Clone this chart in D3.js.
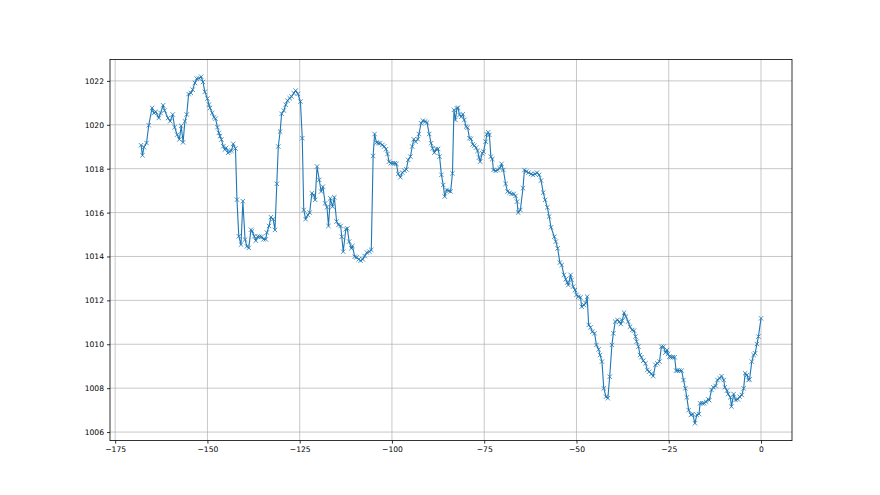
<!DOCTYPE html>
<html>
<head>
<meta charset="utf-8">
<script src="https://cdn.jsdelivr.net/npm/d3@7"></script>
<style>
  html, body { margin: 0; padding: 0; background: #ffffff; }
  svg { display: block; }
  text { font-family: "DejaVu Sans", sans-serif; }
</style>
</head>
<body>
<svg id="chart" width="880" height="495"></svg>
<script>
const hours = [
-168.0,-167.6,-167.2,-166.5,-165.9,-165.0,-164.5,-164.0,-163.2,-162.7,-162.0,-161.6,-160.7,-160.1,-159.4,-158.9,-158.2,-157.6,-157.1,-156.6,-156.1,-155.6,-155.1,-154.5,-154.0,-153.4,-152.9,-152.3,
-151.7,-151.2,-150.7,-150.0,-149.6,-149.3,-148.7,-148.2,-147.8,-147.3,-146.9,-146.6,-146.2,-145.7,-145.3,-144.9,-144.4,-144.0,-143.5,-143.0,-142.4,-142.0,-141.5,-140.9,-140.4,-139.8,-139.3,-138.8,-138.2,-137.9,-137.3,
-136.9,-136.4,-135.9,-135.3,-134.8,-134.2,-133.9,-133.3,-132.8,-132.2,-131.7,-131.2,-130.8,-130.3,-129.9,-129.3,-128.8,-128.3,-127.7,-127.2,-126.6,-126.1,-125.5,-124.8,-124.3,-123.9,-123.4,-122.8,-122.3,-121.7,-121.2,-120.8,-120.3,
-119.7,-119.2,-118.7,-118.1,-117.6,-117.2,-116.7,-116.1,-115.6,-115.0,-114.5,-113.9,-113.6,-113.2,-112.5,-112.1,-111.6,-111.0,-110.7,-110.1,-109.6,-109.0,-108.5,-107.9,-107.4,-106.8,-106.1,-105.6,-105.1,-104.7,-104.2,-103.7,-103.2,
-102.6,-102.1,-101.6,-101.2,-100.8,-100.3,-99.7,-99.2,-98.8,-98.3,-97.7,-97.2,-96.6,-96.1,-95.6,-95.0,-94.5,-94.1,-93.6,-93.0,-92.7,-92.1,-91.6,-91.0,-90.5,-89.9,-89.4,-89.0,-88.5,-88.0,-87.5,-87.1,-86.6,-86.1,-85.7,-85.2,-84.6,-84.1,-83.6,
-83.2,-82.8,-82.4,-82.1,-81.7,-81.2,-80.8,-80.4,-79.9,-79.5,-79.0,-78.6,-78.1,-77.7,-77.2,-76.8,-76.4,-76.1,-75.5,-75.2,-74.6,-74.3,-73.9,-73.6,-73.2,-72.8,-72.5,-71.9,-71.4,-70.8,-70.3,-69.8,-69.2,-68.7,-68.1,-67.6,-67.0,-66.5,-66.1,-65.8,-65.2,
-64.5,-64.1,-63.6,-63.0,-62.3,-61.8,-61.2,-60.7,-60.1,-59.6,-59.0,-58.5,-57.9,-57.4,-56.9,-56.0,-55.6,-55.1,-54.5,-54.0,-53.4,-52.9,-52.5,-52.2,-51.6,-51.3,-50.9,-50.4,-50.0,-49.5,-48.9,-48.6,-48.0,-47.5,-47.1,-46.7,-46.2,-45.7,-45.1,
-44.6,-44.0,-43.6,-43.1,-42.6,-42.0,-41.5,-41.0,-40.4,-40.0,-39.5,-38.9,-38.4,-38.0,-37.6,-37.1,-36.6,-36.0,-35.5,-34.9,-34.4,-34.0,-33.7,-33.2,-32.8,-32.4,-31.9,-31.3,-30.8,-30.3,-29.7,-29.2,-28.6,-28.1,-27.5,-27.0,-26.4,-25.9,-25.5,
-25.2,-24.8,-24.5,-23.9,-23.4,-23.0,-22.6,-22.1,-21.5,-21.0,-20.5,-20.1,-19.6,-19.0,-18.5,-17.9,-17.4,-16.8,-16.5,-15.9,-15.4,-14.9,-14.3,-14.0,-13.4,-12.9,-12.3,-11.8,-11.2,-10.7,-10.1,-9.8,-9.2,-8.9,-8.3,-8.0,-7.4,-6.9,-6.3,
-5.8,-5.2,-4.7,-4.3,-3.8,-3.4,-3.1,-2.5,-2.0,-1.6,-1.1,-0.7,0.0
];
const pressure = [
1019.07,1018.61,1018.98,1019.17,1019.98,1020.77,1020.54,1020.59,1020.31,1020.54,1020.89,1020.65,1020.31,1020.16,1020.47,1019.89,1019.55,1019.33,1019.95,1019.20,1020.16,1020.47,1021.40,1021.45,1021.60,1021.91,1022.10,1022.11,
1022.19,1021.95,1021.50,1021.19,1020.92,1020.77,1020.54,1020.34,1020.28,1019.89,1019.63,1019.48,1019.33,1019.02,1018.87,1018.95,1018.72,1018.79,1018.82,1019.13,1018.92,1016.59,1014.92,1014.54,1016.52,1014.77,1014.46,1014.39,1015.22,1015.15,1014.92,
1014.72,1014.90,1014.90,1014.90,1014.78,1014.78,1015.09,1015.39,1015.79,1015.70,1015.21,1017.31,1019.01,1019.69,1020.50,1020.65,1020.91,1021.10,1021.21,1021.29,1021.44,1021.56,1021.41,1021.06,1019.39,1016.12,1015.70,1015.89,1016.00,1016.88,1016.80,1016.58,1018.10,
1017.49,1016.96,1017.18,1016.42,1016.24,1015.39,1016.65,1016.27,1016.70,1015.59,1015.44,1015.39,1014.90,1014.22,1015.24,1015.28,1014.68,1014.37,1014.48,1013.99,1013.96,1013.87,1013.81,1013.87,1014.02,1014.18,1014.22,1014.30,1018.58,1019.58,1019.19,1019.16,1019.16,
1019.08,1019.01,1018.89,1018.67,1018.32,1018.25,1018.25,1018.25,1018.22,1017.76,1017.61,1017.82,1017.91,1017.97,1018.40,1018.55,1019.01,1019.34,1019.23,1019.34,1019.58,1020.07,1020.19,1020.15,1020.10,1019.58,1019.16,1018.93,1018.73,1018.90,1018.90,1018.55,1017.72,1017.26,1016.73,1017.03,1016.99,1016.96,1017.79,
1020.68,1020.22,1020.75,1020.78,1020.45,1020.37,1020.48,1020.22,1019.92,1019.87,1019.39,1019.36,1019.11,1019.05,1018.96,1018.81,1018.51,1018.32,1018.70,1018.78,1019.23,1019.57,1019.66,1019.54,1018.55,1018.44,1017.94,1017.90,1017.94,1018.02,1018.22,1017.94,1017.31,1016.96,1016.91,1016.85,1016.85,1016.76,1016.50,1016.00,1016.12,
1017.11,1017.94,1017.87,1017.82,1017.76,1017.72,1017.76,1017.82,1017.72,1017.46,1016.91,1016.58,1016.24,1015.82,1015.33,1014.90,1014.68,1014.37,1013.72,1013.61,1013.16,1012.96,1012.81,1012.70,1013.16,1012.93,1012.63,1012.47,1012.25,1012.17,1012.14,1011.71,1011.79,1011.87,1012.17,1010.88,1010.77,1010.57,1010.50,
1009.97,1009.77,1009.51,1009.21,1007.99,1007.61,1007.54,1008.52,1009.97,1010.50,1011.03,1011.11,1011.03,1010.92,1011.08,1011.44,1011.26,1011.03,1010.80,1010.65,1010.62,1010.35,1010.12,1009.89,1009.51,1009.41,1009.25,1009.13,1008.83,1008.75,1008.65,1008.55,1009.06,1009.13,1009.21,1009.89,1009.89,1009.62,1009.74,
1009.56,1009.44,1009.41,1009.41,1009.41,1008.80,1008.80,1008.80,1008.80,1008.37,1007.99,1007.58,1007.00,1006.78,1006.82,1006.40,1006.78,1006.82,1007.31,1007.31,1007.31,1007.38,1007.49,1007.45,1007.92,1008.04,1008.10,1008.37,1008.45,1008.55,1008.37,1008.04,1007.89,1007.73,1007.58,1007.16,1007.73,1007.46,1007.49,
1007.61,1007.69,1007.99,1008.68,1008.60,1008.37,1008.40,1009.21,1009.51,1009.59,1010.01,1010.35,1011.18
];
const xTicks = [-175, -150, -125, -100, -75, -50, -25, 0];
const yTicks = [1006, 1008, 1010, 1012, 1014, 1016, 1018, 1020, 1022];

const plotL = 110, plotR = 792, plotT = 59.4, plotB = 440.6;
const svg = d3.select("#chart");

const data = hours.map((h, i) => ({ h, p: pressure[i] }));
const xe = d3.extent(hours), ye = d3.extent(pressure);
const xm = (xe[1] - xe[0]) * 0.05, ym = (ye[1] - ye[0]) * 0.05;
const x = d3.scaleLinear().domain([xe[0] - xm, xe[1] + xm]).range([plotL, plotR]);
const y = d3.scaleLinear().domain([ye[0] - ym, ye[1] + ym]).range([plotB, plotT]);

const fmt = v => String(v).replace("-", "\u2212");

// grid
const grid = svg.append("g");
grid.selectAll("line.vx").data(xTicks).enter().append("line")
  .attr("x1", d => x(d)).attr("x2", d => x(d)).attr("y1", plotT).attr("y2", plotB)
  .attr("stroke", "#b0b0b0").attr("stroke-width", 0.7);
grid.selectAll("line.hy").data(yTicks).enter().append("line")
  .attr("y1", d => y(d)).attr("y2", d => y(d)).attr("x1", plotL).attr("x2", plotR)
  .attr("stroke", "#b0b0b0").attr("stroke-width", 0.7);

// axes
const xAxis = d3.axisBottom(x).tickValues(xTicks).tickFormat(fmt).tickSize(3).tickPadding(3);
const yAxis = d3.axisLeft(y).tickValues(yTicks).tickFormat(d => d).tickSize(3).tickPadding(3);
const gx = svg.append("g").attr("transform", `translate(0,${plotB})`).call(xAxis);
const gy = svg.append("g").attr("transform", `translate(${plotL},0)`).call(yAxis);
[gx, gy].forEach(g => {
  g.select(".domain").remove();
  g.selectAll(".tick line").attr("stroke", "#000").attr("stroke-width", 0.8);
  g.selectAll(".tick text").attr("fill", "#000").style("font-size", "7.6px").style("font-family", "DejaVu Sans");
});

// line
const line = d3.line().x(d => x(d.h)).y(d => y(d.p));
svg.append("path").datum(data).attr("d", line)
  .attr("fill", "none").attr("stroke", "#1f77b4").attr("stroke-width", 1.1).attr("stroke-linejoin", "round");

// markers
const r = 2.2;
svg.append("g").selectAll("path").data(data).enter().append("path")
  .attr("transform", d => `translate(${x(d.h)},${y(d.p)})`)
  .attr("d", `M${-r},${-r}L${r},${r}M${-r},${r}L${r},${-r}`)
  .attr("stroke", "#1f77b4").attr("stroke-width", 0.8).attr("fill", "none");

// spines
svg.append("rect").attr("x", plotL).attr("y", plotT).attr("width", plotR - plotL).attr("height", plotB - plotT)
  .attr("fill", "none").attr("stroke", "#000").attr("stroke-width", 0.8);
</script>
</body>
</html>
